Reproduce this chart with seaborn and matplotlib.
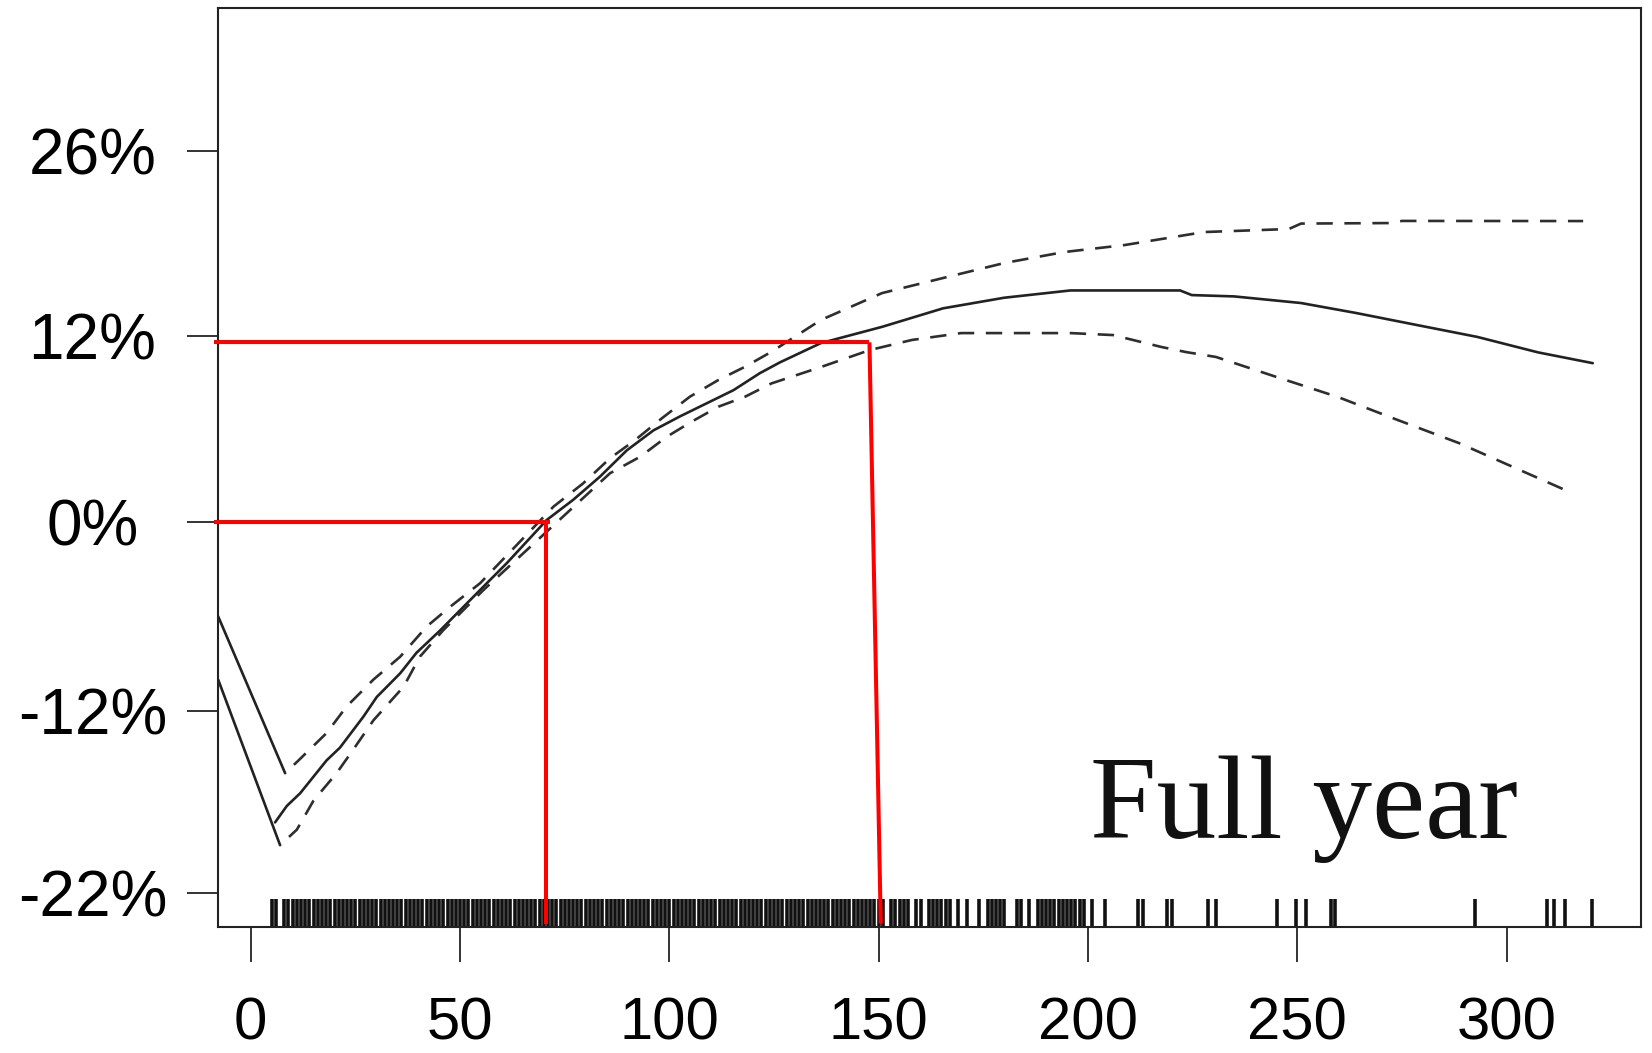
import numpy as np
import matplotlib
matplotlib.use("Agg")
import matplotlib.pyplot as plt
import seaborn as sns

# ---- data -------------------------------------------------------------
# fitted effect (percent) against x
fit_x = [5.8, 8.6, 11.8, 18.1, 21.3, 26.9, 30.1, 35.7, 39.6, 45.2, 50.8, 56.4,
         61.1, 70.7, 77.0, 83.4, 89.8, 96.2, 102.5, 108.9, 115.3, 121.6, 126.4,
         136.2, 150.8, 165.4, 180.0, 195.8, 222.0, 224.8, 234.9, 250.9, 264.0,
         278.4, 293.0, 307.5, 320.6]
fit_y = [-18.1, -17.2, -16.5, -14.7, -14.0, -12.3, -11.1, -9.6, -8.3, -6.9, -5.4,
         -3.9, -2.65, 0.1, 1.4, 2.9, 4.6, 5.9, 6.8, 7.65, 8.5, 9.6, 10.3, 11.55,
         12.7, 14.1, 14.9, 15.45, 15.45, 15.1, 15.0, 14.5, 13.75, 12.85, 11.95,
         10.95, 10.25]

# upper confidence bound
upper_x = [-7.8, 8.2, 11.4, 18.1, 22.9, 29.3, 35.7, 42.0, 47.6, 54.8, 72.3, 79.4,
           85.8, 91.8, 98.2, 104.9, 111.7, 118.1, 124.4, 136.2, 150.8, 165.4,
           180.0, 194.3, 208.8, 227.7, 248.0, 250.9, 272.7, 275.0, 318.3]
upper_y = [-6.0, -15.4, -14.7, -13.2, -11.7, -10.0, -8.55, -6.65, -5.4, -3.9, 0.96,
           2.47, 4.09, 5.27, 6.68, 8.08, 9.16, 10.02, 10.99, 13.22, 15.25, 16.39,
           17.52, 18.35, 18.88, 19.86, 20.09, 20.5, 20.54, 20.7, 20.69]

# lower confidence bound
lower_x = [-7.8, 7.0, 11.0, 15.0, 20.5, 24.5, 29.3, 36.5, 40.4, 46.0, 50.8, 55.6,
           85.8, 93.0, 99.4, 105.3, 111.7, 118.1, 124.4, 136.2, 147.9, 157.9,
           169.7, 195.8, 206.0, 217.5, 223.4, 230.6, 245.1, 259.7, 274.0, 288.6,
           303.2, 314.0]
lower_y = [-10.0, -19.35, -18.5, -16.9, -15.4, -14.1, -12.5, -10.45, -8.55, -6.87,
           -5.6, -4.33, 3.12, 4.19, 5.49, 6.46, 7.43, 8.08, 8.94, 10.0, 11.1,
           11.75, 12.23, 12.23, 12.08, 11.3, 10.97, 10.65, 9.35, 8.06, 6.57, 5.08,
           3.33, 2.04]

# observed x values (rug)
rug_x = [5, 6, 8, 9, 10, 11, 12, 13, 14, 15, 16, 17, 18, 19, 20, 21, 22, 23, 24,
         25, 26, 27, 28, 29, 30, 31, 32, 33, 34, 35, 36, 37, 38, 39, 40, 41, 42,
         43, 44, 45, 46, 47, 48, 49, 50, 51, 52, 53, 54, 55, 56, 57, 58, 59, 60,
         61, 62, 63, 64, 65, 66, 67, 68, 69, 70, 71, 72, 73, 74, 75, 76, 77, 78,
         79, 80, 81, 82, 83, 84, 85, 86, 87, 88, 89, 90, 91, 92, 93, 94, 95, 96,
         97, 98, 99, 100, 101, 102, 103, 104, 105, 106, 107, 108, 109, 110, 111,
         112, 113, 114, 115, 116, 117, 118, 119, 120, 121, 122, 123, 124, 125,
         126, 127, 128, 129, 130, 131, 132, 133, 134, 135, 136, 137, 138, 139,
         140, 141, 142, 143, 144, 145, 146, 147, 148, 149, 150, 151,
         153, 154, 155, 156, 157, 159, 160, 162, 163, 164, 165, 166, 167, 169,
         171, 174, 176, 177, 178, 179, 180, 183, 184, 186, 188, 189, 190, 191,
         192, 193, 194, 195, 196, 197, 198, 199, 201, 204, 212, 213.2, 219, 220,
         228.6, 230.6, 245.2, 249.6, 252.1, 258, 259, 292.5, 309.6, 311.4,
         313.9, 320.3]

# highlighted reference points: (x where the effect is read, effect in %)
guide_x = [70.5, 147.8]
guide_x_bottom = [70.5, 150.5]
guide_y = [0.0, 11.6]
guide_x_start = -8.8

y_ticks = [-22, -12, 0, 12, 26]
y_labels = ["-22%", "-12%", "0%", "12%", "26%"]
x_ticks = [0, 50, 100, 150, 200, 250, 300]

# ---- y scale: piecewise-linear between the labelled tick values
KNOT_VAL = np.array([-22.0, -12.0, 0.0, 12.0, 26.0])
KNOT_POS = np.array([0.0, 182.3, 372.0, 557.4, 742.8])
SLOPE_LO = (KNOT_POS[1] - KNOT_POS[0]) / (KNOT_VAL[1] - KNOT_VAL[0])
SLOPE_HI = (KNOT_POS[-1] - KNOT_POS[-2]) / (KNOT_VAL[-1] - KNOT_VAL[-2])


def to_pos(v):
    v = np.asarray(v, dtype=float)
    out = np.interp(v, KNOT_VAL, KNOT_POS)
    out = np.where(v < KNOT_VAL[0], KNOT_POS[0] + (v - KNOT_VAL[0]) * SLOPE_LO, out)
    out = np.where(v > KNOT_VAL[-1], KNOT_POS[-1] + (v - KNOT_VAL[-1]) * SLOPE_HI, out)
    return out


def from_pos(p):
    p = np.asarray(p, dtype=float)
    out = np.interp(p, KNOT_POS, KNOT_VAL)
    out = np.where(p < KNOT_POS[0], KNOT_VAL[0] + (p - KNOT_POS[0]) / SLOPE_LO, out)
    out = np.where(p > KNOT_POS[-1], KNOT_VAL[-1] + (p - KNOT_POS[-1]) / SLOPE_HI, out)
    return out


# ---- figure -----------------------------------------------------------
sns.set_style("white")
plt.rcParams["font.family"] = ["Liberation Sans", "DejaVu Sans"]

W, H = 1652, 1053
fig = plt.figure(figsize=(W / 100, H / 100), dpi=100)
ax = fig.add_axes([218.1 / W, 1 - 927.2 / H, (1640.5 - 218.1) / W, (927.2 - 8.4) / H])
ax.set_yscale("function", functions=(to_pos, from_pos))

line_col = "#222222"
lw = 1.9
dash_gap_first = (6, (6.2, 4.4))

# fitted curve
sns.lineplot(x=fit_x, y=fit_y, ax=ax, color=line_col, linewidth=lw,
             sort=False, estimator=None)

# bounds: first segment solid, the rest dashed
for bx, by in ((upper_x, upper_y), (lower_x, lower_y)):
    sns.lineplot(x=bx[:2], y=by[:2], ax=ax, color=line_col, linewidth=lw,
                 sort=False, estimator=None)
    sns.lineplot(x=bx[1:], y=by[1:], ax=ax, color="#2e2e2e", linewidth=lw,
                 linestyle=dash_gap_first, sort=False, estimator=None)

# rug of observations
sns.rugplot(x=rug_x, ax=ax, height=0.031, color="#111111", linewidth=2.6,
            expand_margins=False)

x_min, x_max = -7.81, 332.0
y_min, y_max = -23.85, 36.75
ax.set_xlim(x_min, x_max)
ax.set_ylim(y_min, y_max)

# red guide lines
red = "#FF0000"
for gx, gxb, gy, extra in zip(guide_x, guide_x_bottom, guide_y, [1.0, 0.0]):
    ax.plot([guide_x_start, gx + extra], [gy, gy], color=red, lw=2.9,
            clip_on=False, solid_capstyle="butt", zorder=5)
    ax.plot([gx, gxb], [gy, y_min + 0.2], color=red, lw=2.9,
            clip_on=False, solid_capstyle="butt", zorder=5)

# axes styling
ax.set_xticks(x_ticks)
ax.set_yticks(y_ticks)
ax.set_yticklabels(y_labels)
ax.minorticks_off()
ax.tick_params(axis="y", length=22, width=1.4, pad=68.5, labelsize=46,
               color="#333333", labelcolor="black", left=True)
for lab in ax.get_yticklabels():
    lab.set_horizontalalignment("center")
ax.tick_params(axis="x", length=25, width=1.4, pad=25, labelsize=43,
               color="#333333", labelcolor="black", bottom=True)
for s in ax.spines.values():
    s.set_visible(True)
    s.set_linewidth(1.5)
    s.set_color("#222222")
ax.set_xlabel("")
ax.set_ylabel("")

fig.text(1090 / W, 1 - 838.3 / H, "Full year", fontsize=86, color="#111111",
         family=["Liberation Serif", "DejaVu Serif"], ha="left", va="baseline")

fig.savefig("out.png", dpi=100)
